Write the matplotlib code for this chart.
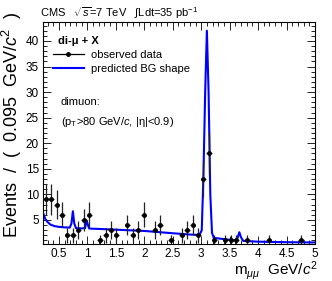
#!/usr/bin/env python3
# coding: utf-8

import numpy as np
import matplotlib
matplotlib.use('Agg')
import matplotlib.pyplot as plt
from matplotlib.ticker import MultipleLocator
from matplotlib.lines import Line2D

plt.rcParams['font.family'] = ['Liberation Sans', 'DejaVu Sans']
plt.rcParams['mathtext.fontset'] = 'custom'
plt.rcParams['mathtext.rm'] = 'Liberation Sans'
plt.rcParams['mathtext.it'] = 'Liberation Sans:italic'
plt.rcParams['mathtext.bf'] = 'Liberation Sans:bold'

# histogram: 50 bins from 0.22 to 5.0 GeV
x_lo, x_hi, nbins = 0.22, 5.0, 50
# observed counts per bin (0 = empty bin, not drawn)
counts = [9, 9, 8, 6, 2, 2, 3, 5, 6, 0,
          1, 2, 3, 2, 0, 4, 2, 3, 6, 0,
          3, 4, 0, 1, 0, 2, 3, 4, 2, 13,
          18, 1, 0, 1, 1, 1, 0, 1, 0, 0,
          0, 1, 0, 0, 0, 0, 0, 1, 0, 0]

# predicted background shape
bg_x = [0.22, 0.26, 0.30, 0.35, 0.42, 0.50, 0.60, 0.69, 0.72, 0.745, 0.77, 0.80,
        0.90, 0.96, 0.985, 1.005, 1.03, 1.06, 1.20, 1.50, 2.00, 2.50, 2.80, 2.97,
        3.01, 3.04, 3.07, 3.10, 3.13, 3.16, 3.19, 3.22, 3.40, 3.60, 3.64, 3.67,
        3.70, 3.74, 4.00, 4.50, 5.00]
bg_y = [6.4, 5.2, 4.6, 4.1, 3.8, 3.65, 3.55, 3.5, 4.3, 6.7, 4.3, 3.4,
        3.35, 3.4, 4.9, 4.2, 3.35, 3.3, 3.25, 3.1, 2.85, 2.4, 2.15, 2.05,
        3.0, 14.0, 30.0, 42.0, 30.0, 10.0, 2.5, 1.5, 1.25, 1.0, 1.5, 2.6,
        1.6, 0.9, 0.75, 0.65, 0.6]

width = (x_hi - x_lo) / nbins
centers = x_lo + width * (np.arange(nbins) + 0.5)
counts = np.array(counts, dtype=float)
keep = counts > 0

fig = plt.figure(figsize=(3.32, 2.81), dpi=100)
ax = fig.add_axes([0.1295, 0.1317, 0.8193, 0.790])

bg_line, = ax.plot(bg_x, bg_y, color='#0000ff', lw=1.5, zorder=2)
ax.errorbar(centers[keep], counts[keep], yerr=np.sqrt(counts[keep]),
            xerr=width / 2, fmt='o', ms=2.5, color='black', ecolor='#222222',
            elinewidth=0.9, capsize=0, zorder=3)

ax.set_xlim(x_lo, x_hi)
ax.set_ylim(0.3, 43.7)
ax.xaxis.set_minor_locator(MultipleLocator(0.1))
ax.yaxis.set_minor_locator(MultipleLocator(1))
ax.set_yticks([5, 10, 15, 20, 25, 30, 35, 40])
ax.set_xticks([0.5, 1, 1.5, 2, 2.5, 3, 3.5, 4, 4.5, 5])
ax.set_xticklabels(['0.5', '1', '1.5', '2', '2.5', '3', '3.5', '4', '4.5', '5'])
ax.tick_params(which='both', direction='in', top=True, right=True, labelsize=8.5,
               width=0.6, pad=3)
ax.tick_params(which='major', length=6)
ax.tick_params(which='minor', length=3)
for s in ax.spines.values():
    s.set_linewidth(0.8)

fig.text(0.036, 0.957, 'Events  /  (  0.095  GeV/$c^2$  )', fontsize=13, rotation=90,
         ha='center', va='top')
fig.text(0.957, 0.022, r'm$_{\mu\mu}$  GeV/$c^2$', fontsize=11, ha='right',
         va='baseline')

fig.text(0.12, 0.955, r'CMS   $\sqrt{s}$=7 TeV   $\int$Ldt=35 pb$^{-1}$', fontsize=8,
         va='center', ha='left')

ax.text(0.055, 0.915, 'di-μ + X', transform=ax.transAxes, fontsize=8,
        fontweight='bold', va='center')
data_handle = Line2D([], [], color='black', lw=0.9, marker='o', ms=2.5)
ax.legend(handles=[data_handle, bg_line], labels=['observed data', 'predicted BG shape'],
          loc='upper left', bbox_to_anchor=(0.02, 0.895), frameon=False,
          fontsize=8, handlelength=2.8, handletextpad=0.6, labelspacing=0.35,
          borderaxespad=0)
ax.text(0.065, 0.64, 'dimuon:', transform=ax.transAxes, fontsize=8, va='center')
ax.text(0.065, 0.55, r'(p$_\mathrm{T}$>80 GeV/$c$, |η|<0.9)', transform=ax.transAxes,
        fontsize=8, va='center')

fig.savefig('out.png', dpi=100)
